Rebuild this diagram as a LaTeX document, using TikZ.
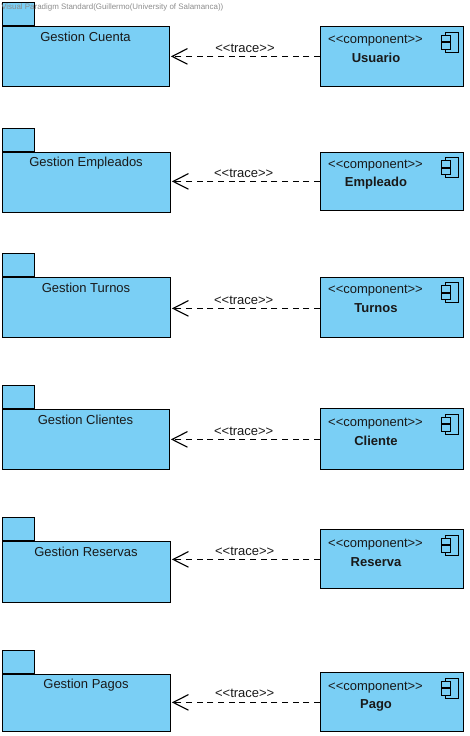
\documentclass[tikz,border=0pt]{standalone}
\usepackage{fontspec}
\setmainfont{Liberation Sans}
\usetikzlibrary{calc,arrows.meta}

\definecolor{boxblue}{RGB}{122,207,245}
\definecolor{markgray}{RGB}{140,140,140}

\tikzset{
    boxbase/.style={draw=black, line width=0.8pt, fill=boxblue, rectangle, anchor=north west, inner sep=0pt},
    pkgtab/.style={boxbase, minimum width=32*0.75pt, minimum height=23*0.75pt},
    pkgbody/.style={boxbase},
    compbox/.style={boxbase, minimum width=143.2*0.75pt},
    boxtext/.style={font=\fontsize{9.75pt}{11pt}\selectfont, text=black!90},
    tracearrow/.style={line width=0.85pt, dash pattern=on 4.6pt off 3.4pt,
        -{Straight Barb[length=11.5pt,width=11.7pt]}, shorten >=0.6pt},
}

\begin{document}
\begin{tikzpicture}[x=0.75pt,y=-0.75pt]

    % Fix the page to the size of the reference
    \useasboundingbox (0,0) rectangle (469,736);

    % One row: names, package top, width, height, component top, height, text offset, arrow height, trace label
    \foreach \nm/\pkgname/\compname/\pkgtop/\pkgw/\pkgh/\comptop/\comph/\textdy/\arrowy/\tracex/\tracey in {
        cuenta/Cuenta/Usuario/2/167/60/26/59.7/14.2/56.4/245/48,
        empleados/Empleados/Empleado/128/168/60/151.5/58.6/13.7/181.4/243.7/173.5,
        turnos/Turnos/Turnos/253/168/60/276.5/60.5/13.7/308.4/243.7/300.3,
        clientes/Clientes/Cliente/385/167/60/408/61.4/15.2/439.4/243.7/431.3,
        reservas/Reservas/Reserva/517/168/61/529/59/15.2/559.4/244.7/551.5,
        pagos/Pagos/Pago/650/168/57/672/58.7/15.2/702.4/244.7/693.3} {

        % Package: tab first, then the body below it
        \node[pkgtab] (tab\nm) at (2,\pkgtop) {};
        \node[pkgbody, minimum width=\pkgw*0.75pt, minimum height=\pkgh*0.75pt] (pkg\nm) at (tab\nm.south west) {};
        \node[boxtext] (pkgtext\nm) at ($(pkg\nm.north)+(-0.5,10.8)$) {Gestion \pkgname};

        % Component box with its stereotype and name
        \node[compbox, minimum height=\comph*0.75pt] (comp\nm) at (320,\comptop) {};
        \node[boxtext] (stereo\nm) at ($(comp\nm.north west)+(55.5,\textdy)$) {{<}{<}component{>}{>}};
        \node[boxtext, font=\fontsize{9.75pt}{11pt}\selectfont\bfseries] (compname\nm) at ($(stereo\nm)+(0.5,18)$) {\compname};

        % Component icon in the top right corner
        \draw[line width=0.7pt] ($(comp\nm.north east)+(-19,6)$) rectangle ($(comp\nm.north east)+(-6,26)$);
        \draw[line width=0.7pt, fill=boxblue] ($(comp\nm.north east)+(-22.5,9)$) rectangle ($(comp\nm.north east)+(-13.5,15.5)$);
        \draw[line width=0.7pt, fill=boxblue] ($(comp\nm.north east)+(-22.5,16.5)$) rectangle ($(comp\nm.north east)+(-13.5,23)$);

        % Trace dependency from the component back to the package
        \coordinate (start\nm) at (comp\nm.west |- 0,\arrowy);
        \coordinate (end\nm) at (pkg\nm.east |- 0,\arrowy);
        \draw[tracearrow] (start\nm) -- (end\nm);
        \node[boxtext] (trace\nm) at (\tracex,\tracey) {{<}{<}trace{>}{>}};
    }

    % Tool mark across the top
    \node[text=markgray, font=\fontsize{5.95pt}{7pt}\selectfont, anchor=west, inner sep=0pt] (mark) at (1,7.5)
        {Visual Paradigm Standard(Guillermo(University of Salamanca))};

\end{tikzpicture}
\end{document}
